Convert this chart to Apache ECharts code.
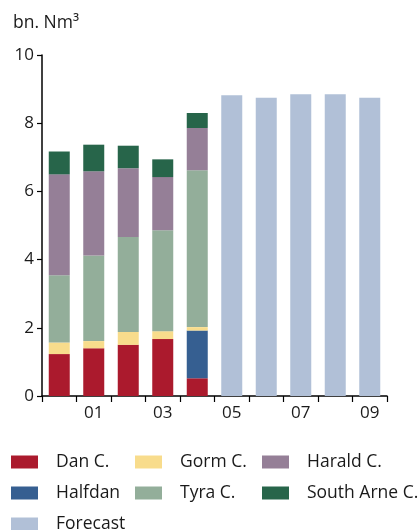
<!DOCTYPE html>
<html>
<head>
<meta charset="utf-8">
<style>
  html, body { margin: 0; padding: 0; background: #fff; }
  #chart { width: 420px; height: 530px; }
</style>
<script src="https://cdn.jsdelivr.net/npm/echarts@6/dist/echarts.min.js"></script>
</head>
<body>
<div id="chart"></div>
<script>
// Gas production by field, bn. Nm³ (2000–2004 actual, 2005–2009 forecast)
const years = ['00', '01', '02', '03', '04', '05', '06', '07', '08', '09'];
const danC      = [1.23, 1.40, 1.50, 1.67, 0.52, '-', '-', '-', '-', '-'];
const halfdan   = ['-', '-', '-', '-', 1.40, '-', '-', '-', '-', '-'];
const gormC     = [0.34, 0.21, 0.38, 0.23, 0.10, '-', '-', '-', '-', '-'];
const tyraC     = [1.97, 2.51, 2.78, 2.96, 4.60, '-', '-', '-', '-', '-'];
const haraldC   = [2.96, 2.47, 2.02, 1.56, 1.24, '-', '-', '-', '-', '-'];
const southArne = [0.67, 0.78, 0.66, 0.52, 0.44, '-', '-', '-', '-', '-'];
const forecast  = ['-', '-', '-', '-', '-', 8.82, 8.75, 8.85, 8.85, 8.75];
const yTicks = [0, 2, 4, 6, 8, 10];

const FONT = '"Open Sans", "Noto Sans", sans-serif';
const TEXT = '#1a1a1a';

const colors = {
  dan: '#ab1a2d',
  gorm: '#f8dc8c',
  harald: '#957f97',
  halfdan: '#365f91',
  tyra: '#93ae9a',
  southArne: '#27654a',
  forecast: '#b1c0d7'
};

function bar(name, data, color) {
  return {
    name: name,
    type: 'bar',
    stack: 'gas',
    data: data,
    barWidth: 21,
    itemStyle: { color: color },
    emphasis: { disabled: true }
  };
}

// Legend laid out as a 3-column grid: one entry per legend component
const legendCols = [11, 135, 262];
const legendRows = [453, 484, 515];
const legendLayout = [
  ['Dan C.', 0, 0], ['Gorm C.', 1, 0], ['Harald C.', 2, 0],
  ['Halfdan', 0, 1], ['Tyra C.', 1, 1], ['South Arne C.', 2, 1],
  ['Forecast', 0, 2]
];
function legendItem(entry) {
  return {
    left: legendCols[entry[1]],
    top: legendRows[entry[2]],
    padding: 0,
    itemWidth: 27,
    itemHeight: 13,
    icon: 'rect',
    selectedMode: false,
    textStyle: {
      fontFamily: FONT, fontSize: 17.5, color: TEXT,
      lineHeight: 14, padding: [1, 0, 0, 13]
    },
    data: [entry[0]]
  };
}

const chart = echarts.init(document.getElementById('chart'), null, { renderer: 'canvas' });
chart.setOption({
  animation: false,
  title: {
    text: 'bn. Nm³',
    left: 8,
    top: 9,
    textStyle: { fontFamily: FONT, fontSize: 17.5, fontWeight: 'normal', color: TEXT }
  },
  legend: legendLayout.map(legendItem),
  grid: { left: 42, right: 33, top: 55, bottom: 134, containLabel: false },
  xAxis: {
    type: 'category',
    data: years,
    boundaryGap: true,
    axisLine: { lineStyle: { color: '#000', width: 1.5 } },
    axisTick: { show: true, interval: 0, length: 6, lineStyle: { color: '#000', width: 1.2 } },
    axisLabel: {
      interval: function (index) { return index % 2 === 1; },
      margin: 9,
      fontFamily: FONT,
      fontSize: 17,
      color: TEXT
    }
  },
  yAxis: {
    type: 'value',
    min: yTicks[0],
    max: yTicks[yTicks.length - 1],
    interval: 2,
    splitLine: { show: false },
    axisLine: { show: true, lineStyle: { color: '#000', width: 1.5 } },
    axisTick: { show: true, length: 5, lineStyle: { color: '#000', width: 1.2 } },
    axisLabel: { margin: 8, fontFamily: FONT, fontSize: 17, color: TEXT }
  },
  series: [
    bar('Dan C.', danC, colors.dan),
    bar('Halfdan', halfdan, colors.halfdan),
    bar('Gorm C.', gormC, colors.gorm),
    bar('Tyra C.', tyraC, colors.tyra),
    bar('Harald C.', haraldC, colors.harald),
    bar('South Arne C.', southArne, colors.southArne),
    bar('Forecast', forecast, colors.forecast)
  ]
});
</script>
</body>
</html>
